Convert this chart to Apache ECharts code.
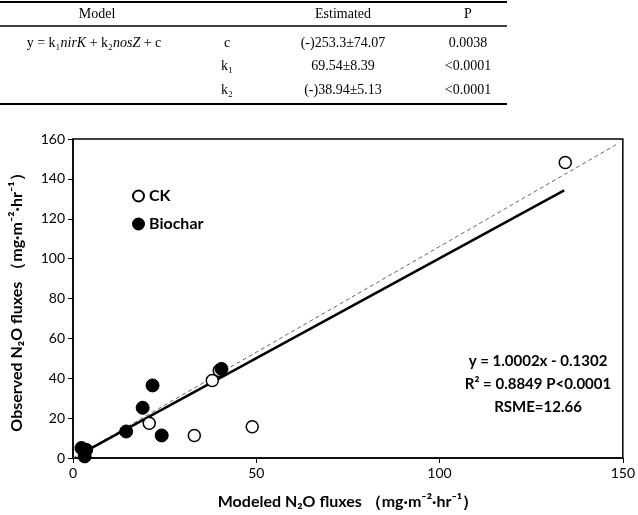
<!DOCTYPE html>
<html>
<head>
<meta charset="utf-8">
<script src="https://cdn.jsdelivr.net/npm/echarts@6/dist/echarts.min.js"></script>
<style>html,body{margin:0;padding:0;background:#fff;}#c{width:638px;height:515px;}</style>
</head>
<body>
<div id="c"></div>
<script>
// Data
const ckX = [134.3, 38.0, 39.9, 20.8, 33.1, 48.9];
const ckY = [148.2, 38.9, 43.9, 17.4, 11.3, 15.7];
const bioX = [21.7, 19.0, 14.5, 24.2, 40.5, 2.3, 3.6, 3.2];
const bioY = [36.4, 25.2, 13.3, 11.3, 44.7, 5.0, 4.1, 0.8];
const fitLineX = [2.5, 134];
const fitLineY = [2.4, 134.2];
const refLineX = [0, 148.5];
const refLineY = [0, 157.5];
const xTicks = [0, 50, 100, 150];
const yTicks = [0, 20, 40, 60, 80, 100, 120, 140, 160];
const tableHeader = ['Model', 'Estimated', 'P'];
const tableParams = ['c', 'k\u2081', 'k\u2082'];
const tableEstimates = ['(-)253.3\u00b174.07', '69.54\u00b18.39', '(-)38.94\u00b15.13'];
const tableP = ['0.0038', '<0.0001', '<0.0001'];
const statLines = ['y = 1.0002x - 0.1302', 'R\u00b2 = 0.8849 P<0.0001', 'RSME=12.66'];

const zip = (a, b) => a.map((v, i) => [v, b[i]]);
const serif = '"Liberation Serif", "DejaVu Serif", serif';
const sans = 'Lato, "Liberation Sans", sans-serif';

const graphics = [];
// table lines
graphics.push({type:'line', shape:{x1:0,y1:2,x2:507,y2:2}, style:{stroke:'#000', lineWidth:2}});
graphics.push({type:'line', shape:{x1:0,y1:26,x2:507,y2:26}, style:{stroke:'#000', lineWidth:1.5}});
graphics.push({type:'line', shape:{x1:0,y1:104,x2:507,y2:104}, style:{stroke:'#000', lineWidth:2}});
const colX = [97, 343, 468];
tableHeader.forEach((t, i) => {
  graphics.push({type:'text', x: colX[i], y: 14, style:{text:t, font:'14px ' + serif, fill:'#000', align:'center', verticalAlign:'middle'}});
});
graphics.push({type:'text', x: 94, y: 43, style:{
  text:'{n|y = k\u2081}{i|nirK}{n| + k\u2082}{i|nosZ}{n| + c}',
  align:'center', verticalAlign:'middle',
  rich:{n:{font:'14px ' + serif, fill:'#000'}, i:{font:'italic 14px ' + serif, fill:'#000'}}
}});
const rowY = [43, 66, 90];
rowY.forEach((y, i) => {
  graphics.push({type:'text', x:227, y:y, style:{text:tableParams[i], font:'14px ' + serif, fill:'#000', align:'center', verticalAlign:'middle'}});
  graphics.push({type:'text', x:343, y:y, style:{text:tableEstimates[i], font:'14px ' + serif, fill:'#000', align:'center', verticalAlign:'middle'}});
  graphics.push({type:'text', x:468, y:y, style:{text:tableP[i], font:'14px ' + serif, fill:'#000', align:'center', verticalAlign:'middle'}});
});
// stats text
const statY = [361, 384, 407];
statLines.forEach((t, i) => {
  graphics.push({type:'text', x:538, y:statY[i], style:{text:t, font:'bold 15px ' + sans, fill:'#000', align:'center', verticalAlign:'middle'}});
});

const chart = echarts.init(document.getElementById('c'), null, {renderer:'canvas'});
chart.setOption({
  animation:false,
  backgroundColor:'#fff',
  grid:{left:73, right:13, top:139, bottom:55, show:true, borderColor:'#000', borderWidth:1.5},
  legend:{
    orient:'vertical', left:127, top:183, itemGap:12, itemWidth:11, itemHeight:11,
    data:[{name:'CK', icon:'circle'}, {name:'Biochar', icon:'circle'}],
    textStyle:{fontFamily:sans, fontWeight:'bold', fontSize:16, color:'#000'}
  },
  xAxis:{
    type:'value', min:xTicks[0], max:xTicks[xTicks.length-1], interval:50,
    name:'Modeled N\u2082O fluxes \uff08mg\u00b7m\u207b\u00b2\u00b7hr\u207b\u00b9\uff09',
    nameLocation:'middle', nameGap:36,
    nameTextStyle:{fontFamily:sans, fontWeight:'bold', fontSize:16, color:'#000'},
    axisLine:{lineStyle:{color:'#000', width:1.5}},
    axisTick:{show:true, length:5, lineStyle:{color:'#000'}},
    axisLabel:{fontFamily:sans, fontSize:14, color:'#000', margin:8},
    splitLine:{show:false}
  },
  yAxis:{
    type:'value', min:yTicks[0], max:yTicks[yTicks.length-1], interval:20,
    name:'Observed N\u2082O fluxes \uff08mg\u00b7m\u207b\u00b2\u00b7hr\u207b\u00b9\uff09',
    nameLocation:'middle', nameGap:48, nameRotate:90,
    nameTextStyle:{fontFamily:sans, fontWeight:'bold', fontSize:16, color:'#000'},
    axisLine:{lineStyle:{color:'#000', width:1.5}},
    axisTick:{show:true, length:5, lineStyle:{color:'#000'}},
    axisLabel:{fontFamily:sans, fontSize:14, color:'#000', margin:8},
    splitLine:{show:false}
  },
  series:[
    {name:'ref', type:'line', data:zip(refLineX, refLineY), symbol:'none', silent:true,
     lineStyle:{color:'#666', width:1, type:[4,3]}, z:1},
    {name:'fit', type:'line', data:zip(fitLineX, fitLineY), symbol:'none', silent:true,
     lineStyle:{color:'#000', width:2.5}, z:2},
    {name:'CK', type:'scatter', data:zip(ckX, ckY), symbol:'circle', symbolSize:12,
     itemStyle:{color:'#fff', borderColor:'#000', borderWidth:1.5, opacity:1}, z:3},
    {name:'Biochar', type:'scatter', data:zip(bioX, bioY), symbol:'circle', symbolSize:13,
     itemStyle:{color:'#000', borderColor:'#000', borderWidth:1, opacity:1}, z:4}
  ],
  graphic:graphics
});
</script>
</body>
</html>
